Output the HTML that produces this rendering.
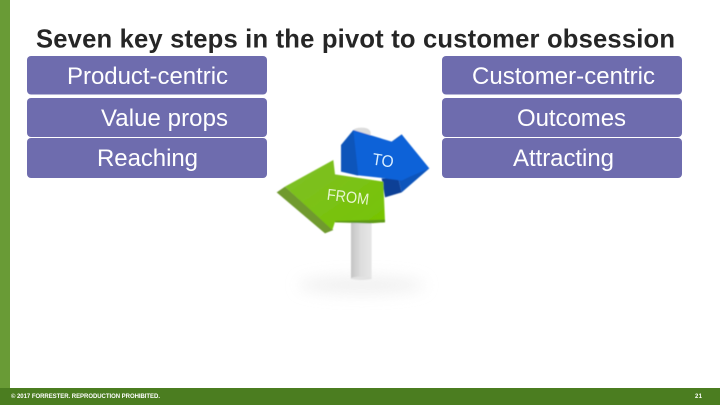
<!DOCTYPE html>
<html><head><meta charset="utf-8">
<style>
html,body{margin:0;padding:0;background:#fff;width:720px;height:405px;overflow:hidden}
svg{display:block}
text{font-family:"Liberation Sans",sans-serif}
</style></head>
<body>
<svg width="720" height="405" viewBox="0 0 720 405" xmlns="http://www.w3.org/2000/svg">
<defs>
<linearGradient id="pole" x1="0" x2="1" y1="0" y2="0"><stop offset="0" stop-color="#c4c4c4"/><stop offset=".5" stop-color="#dedede"/><stop offset="1" stop-color="#e6e6e6"/></linearGradient>
<linearGradient id="gr" x1="0" x2="1" y1="0" y2="1"><stop offset="0" stop-color="#7fbf2a"/><stop offset="1" stop-color="#76c400"/></linearGradient>
<filter id="b" x="-50%" y="-150%" width="200%" height="400%"><feGaussianBlur stdDeviation="22"/></filter>
<filter id="s" x="-10%" y="-10%" width="120%" height="120%"><feGaussianBlur stdDeviation="1.2"/></filter>
</defs>
<rect width="720" height="405" fill="#fff"/>
<rect x="0" y="0" width="10" height="388" fill="#699b36"/>
<rect x="0" y="388" width="720" height="17" fill="#4b7d20"/>
<text x="36" y="47.5" font-size="25.6" font-weight="bold" fill="#262626" textLength="639" lengthAdjust="spacing">Seven key steps in the pivot to customer obsession</text>
<g fill="#6e6cae">
<rect x="27" y="56" width="240" height="38.5" rx="4"/>
<rect x="27" y="98" width="240" height="39" rx="4"/>
<rect x="27" y="138" width="240" height="40" rx="4"/>
<rect x="442" y="56" width="240" height="38.5" rx="4"/>
<rect x="442" y="98" width="240" height="39" rx="4"/>
<rect x="442" y="138" width="240" height="40" rx="4"/>
</g>
<g fill="#fff" font-size="24">
<text x="67" y="84" textLength="161">Product-centric</text>
<text x="101" y="126" textLength="127">Value props</text>
<text x="97" y="166" textLength="101">Reaching</text>
<text x="472" y="84" textLength="183">Customer-centric</text>
<text x="517" y="126" textLength="109">Outcomes</text>
<text x="513" y="166" textLength="101">Attracting</text>
</g>
<g transform="translate(270 115) scale(.33333)">
<ellipse cx="275" cy="510" rx="190" ry="26" fill="#e6e6e6" filter="url(#b)" opacity=".6"/>
<g filter="url(#s)">
<rect x="243" y="300" width="62" height="192" fill="url(#pole)"/>
<ellipse cx="274" cy="490" rx="31" ry="5" fill="#e2e2e2"/>
<path d="M248 50 Q250 38 275 38 Q298 38 302 52 L302 70 L248 70Z" fill="#dcdcdc"/>
<polygon points="345,247 395,232 385,190 335,190" fill="#0a3f96"/>
<polygon points="395,232 478,160 385,190" fill="#0e55bb"/>
<polygon points="365,80 395,58 425,100 380,95" fill="#0c4aa6"/>
<polygon points="250,45 365,80 385,68 395,58 478,160 420,185 395,197 345,190 255,180 240,110" fill="#0f62d8"/>
<polygon points="213,90 250,45 265,182 213,170" fill="#0a55ba"/>
<polygon points="20,232 45,215 190,345 165,355" fill="#6f9a2e"/>
<polygon points="45,215 190,135 195,178 340,200 345,320 300,323 195,320 187,345" fill="url(#gr)"/>
<polygon points="195,318 345,314 345,322 300,325 195,322" fill="#5f9a12"/>
</g>
<text transform="translate(305 148) rotate(9)" font-size="50" fill="#d6ecff" textLength="64" lengthAdjust="spacingAndGlyphs">TO</text>
<text transform="translate(169 254) rotate(7)" font-size="48" fill="#e6f5cf" textLength="127" lengthAdjust="spacingAndGlyphs">FROM</text>
</g>
<text x="11" y="398" font-size="6" font-weight="bold" fill="#fff" textLength="149">© 2017 FORRESTER. REPRODUCTION PROHIBITED.</text>
<text x="695" y="398" font-size="6" font-weight="bold" fill="#fff" textLength="7">21</text>
</svg>
</body></html>
